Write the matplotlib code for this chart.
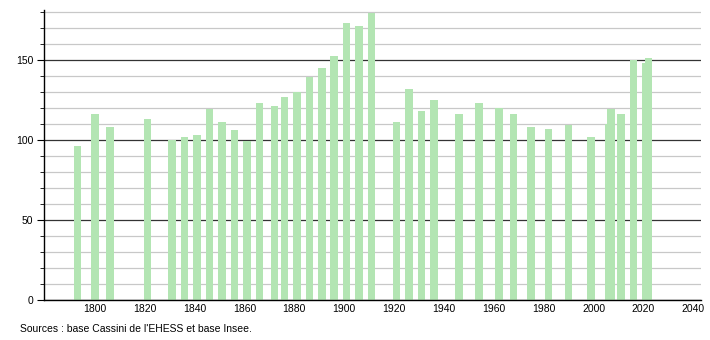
import matplotlib.pyplot as plt
from matplotlib.ticker import MultipleLocator

years = [1793, 1800, 1806, 1821, 1831, 1836, 1841, 1846, 1851, 1856,
         1861, 1866, 1872, 1876, 1881, 1886, 1891, 1896, 1901, 1906,
         1911, 1921, 1926, 1931, 1936, 1946, 1954, 1962, 1968, 1975,
         1982, 1990, 1999, 2006, 2007, 2011, 2016, 2021, 2022]
population = [96, 116, 108, 113, 100, 102, 103, 119, 111, 106,
              99, 123, 121, 127, 130, 139, 145, 152, 173, 171,
              179, 111, 132, 118, 125, 116, 123, 120, 116, 108,
              107, 109, 102, 110, 119, 116, 150, 148, 151]
xticks = list(range(1800, 2041, 20))

plt.rcParams['font.family'] = ['Liberation Sans', 'DejaVu Sans']

fig = plt.figure(figsize=(7.1, 3.4), dpi=100)
ax = fig.add_axes([0.0624, 0.1176, 0.9245, 0.853])

ax.bar(years, population, width=3.0, color='#b3e5b3', zorder=3)

ax.set_xlim(1779.7, 2043)
ax.set_ylim(0, 181)
ax.set_xticks(xticks)
ax.yaxis.set_major_locator(MultipleLocator(50))
ax.yaxis.set_minor_locator(MultipleLocator(10))

ax.grid(which='minor', axis='y', color='#c8c8c8', linewidth=0.9, zorder=1)
ax.grid(which='major', axis='y', color='#333333', linewidth=0.9, zorder=2)

for s in ['top', 'right']:
    ax.spines[s].set_visible(False)
ax.spines['left'].set_linewidth(1.0)
ax.spines['bottom'].set_linewidth(1.0)
ax.spines['bottom'].set_zorder(4)

ax.tick_params(axis='x', length=0, labelsize=7.5, pad=3)
ax.tick_params(axis='y', which='major', length=5, labelsize=7.5, pad=3)
ax.tick_params(axis='y', which='minor', length=3)

fig.text(0.028, 0.018, "Sources : base Cassini de l'EHESS et base Insee.",
         fontsize=7.5, ha='left', va='bottom')

fig.savefig('out.png', dpi=100)
